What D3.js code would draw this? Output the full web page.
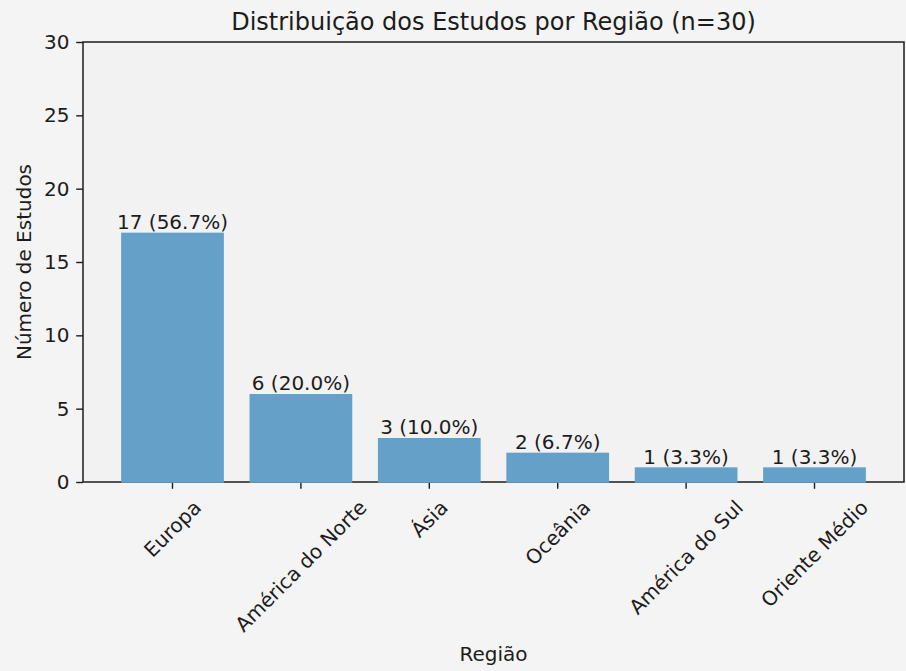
<!DOCTYPE html>
<html>
<head>
<meta charset="utf-8">
<script src="https://cdn.jsdelivr.net/npm/d3@7"></script>
<style>
  html, body { margin: 0; padding: 0; background: #f4f4f4; }
  svg { display: block; font-family: "DejaVu Sans", sans-serif; }
</style>
</head>
<body>
<div class="js-d3"></div>
<script>
const regions = ["Europa", "América do Norte", "Ásia", "Oceânia", "América do Sul", "Oriente Médio"];
const counts = [17, 6, 3, 2, 1, 1];
const yTicks = [0, 5, 10, 15, 20, 25, 30];
const total = 30;

const title = `Distribuição dos Estudos por Região (n=${total})`;
const xTitle = "Região";
const yTitle = "Número de Estudos";

const W = 906;
const H = 671;
const margin = { top: 42, right: 2, bottom: 189, left: 83 };
const w = W - margin.left - margin.right;
const h = H - margin.top - margin.bottom;

const fs = 20;
const tickLen = 6.8;
const tickPad = 6.8;
const barColor = "#64a0c8";
const ink = "#1c1c1c";

const svg = d3
  .select(".js-d3")
  .append("svg")
  .attr("width", W)
  .attr("height", H);

svg.append("rect").attr("width", W).attr("height", H).attr("fill", "#f4f4f4");

const g = svg.append("g").attr("transform", `translate(${margin.left}, ${margin.top})`);

g.append("rect").attr("width", w).attr("height", h).attr("fill", "#f2f2f2");

const x = d3.scaleBand().domain(regions).range([0, w]).paddingInner(0.2).paddingOuter(0.297);
const y = d3.scaleLinear().domain([0, 30]).range([h, 0]);

// y axis
const yAxis = g
  .append("g")
  .call(d3.axisLeft(y).tickValues(yTicks).tickSize(tickLen).tickPadding(tickPad));
yAxis.select(".domain").remove();
yAxis.selectAll("line").attr("stroke", ink).attr("stroke-width", 1.4);
yAxis
  .selectAll("text")
  .attr("fill", ink)
  .style("font-size", `${fs}px`)
  .style("font-family", "DejaVu Sans");

// x axis
const xAxis = g
  .append("g")
  .attr("transform", `translate(0, ${h})`)
  .call(d3.axisBottom(x).tickSize(tickLen).tickPadding(tickPad));
xAxis.select(".domain").remove();
xAxis.selectAll("line").attr("stroke", ink).attr("stroke-width", 1.4);

const lineH = 1.164 * fs;
xAxis
  .selectAll("text")
  .attr("fill", ink)
  .style("font-size", `${fs}px`)
  .style("font-family", "DejaVu Sans")
  .attr("text-anchor", "middle")
  .attr("dominant-baseline", "central")
  .attr("dy", null)
  .attr("y", 0)
  .attr("transform", function () {
    const L = this.getComputedTextLength();
    const cy = tickLen + tickPad + (L + lineH) / (2 * Math.SQRT2);
    return `translate(0, ${cy}) rotate(-45)`;
  });

// spines
g.append("rect")
  .attr("width", w)
  .attr("height", h)
  .attr("fill", "none")
  .attr("stroke", ink)
  .attr("stroke-width", 1.5);

// bars
g.selectAll(".bar")
  .data(regions)
  .enter()
  .append("rect")
  .attr("class", "bar")
  .attr("x", (d) => x(d))
  .attr("width", x.bandwidth())
  .attr("y", (d, i) => y(counts[i]))
  .attr("height", (d, i) => y(0) - y(counts[i]) + 0.8)
  .attr("fill", barColor);

// bar labels
g.selectAll(".bar-label")
  .data(regions)
  .enter()
  .append("text")
  .attr("class", "bar-label")
  .attr("x", (d) => x(d) + x.bandwidth() / 2)
  .attr("y", (d, i) => y(counts[i]) - 3.6)
  .attr("text-anchor", "middle")
  .attr("fill", ink)
  .style("font-size", `${fs}px`)
  .text((d, i) => `${counts[i]} (${((counts[i] / total) * 100).toFixed(1)}%)`);

// titles
svg
  .append("text")
  .attr("x", margin.left + w / 2)
  .attr("y", 29.5)
  .attr("text-anchor", "middle")
  .attr("fill", ink)
  .style("font-size", "24px")
  .text(title);

svg
  .append("text")
  .attr("x", margin.left + w / 2)
  .attr("y", 661)
  .attr("text-anchor", "middle")
  .attr("fill", ink)
  .style("font-size", `${fs}px`)
  .text(xTitle);

svg
  .append("text")
  .attr("transform", `translate(31, ${margin.top + h / 2}) rotate(-90)`)
  .attr("text-anchor", "middle")
  .attr("fill", ink)
  .style("font-size", `${fs}px`)
  .text(yTitle);
</script>
</body>
</html>
